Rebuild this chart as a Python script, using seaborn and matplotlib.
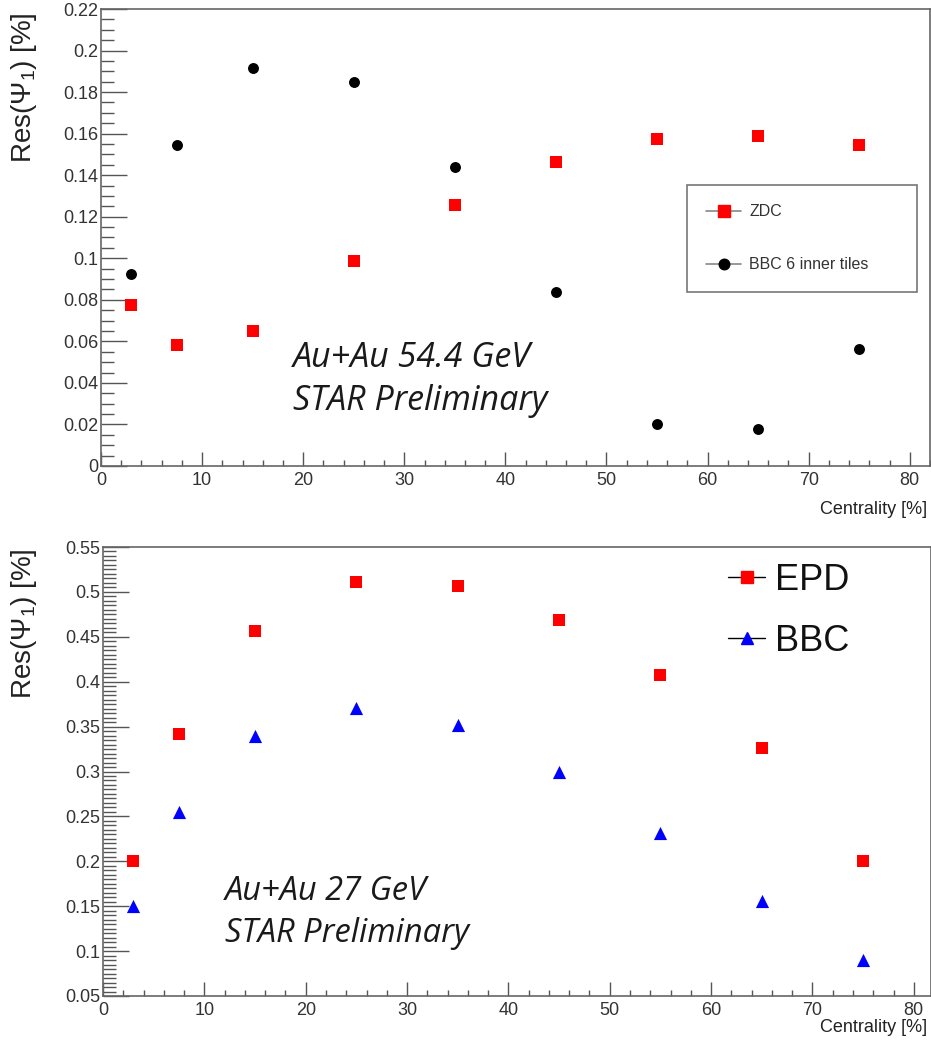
import pandas as pd
import seaborn as sns
import matplotlib.pyplot as plt
from matplotlib.lines import Line2D
from matplotlib.ticker import MultipleLocator, FuncFormatter

# centrality bin centres [%]
centrality = [3, 7.5, 15, 25, 35, 45, 55, 65, 75]

# Au+Au 54.4 GeV resolutions
zdc_res = [0.0775, 0.0583, 0.0651, 0.0985, 0.1258, 0.1465, 0.1573, 0.1589, 0.1547]
bbc_inner_res = [0.0924, 0.1544, 0.1918, 0.1849, 0.1441, 0.0838, 0.0201, 0.0178, 0.0565]

# Au+Au 27 GeV resolutions
epd_res = [0.2003, 0.3422, 0.4565, 0.5107, 0.5070, 0.4690, 0.4071, 0.3262, 0.2003]
bbc_res = [0.1500, 0.2546, 0.3390, 0.3710, 0.3515, 0.2995, 0.2315, 0.1558, 0.0897]

top = pd.DataFrame({'cent': centrality, 'ZDC': zdc_res, 'BBC 6 inner tiles': bbc_inner_res})
bot = pd.DataFrame({'cent': centrality, 'EPD': epd_res, 'BBC': bbc_res})

sns.set_theme(style='white')
plt.rcParams['font.family'] = ['Liberation Sans', 'DejaVu Sans']
plt.rcParams['mathtext.fontset'] = 'custom'
plt.rcParams['mathtext.rm'] = 'Liberation Sans'
plt.rcParams['mathtext.it'] = 'Liberation Sans:italic'

W, H = 931, 1040
fig = plt.figure(figsize=(W / 100, H / 100), dpi=100)
ax1 = fig.add_axes([101 / W, 1 - 466 / H, 829 / W, 457 / H])
ax2 = fig.add_axes([103 / W, 1 - 996 / H, 828 / W, 449 / H])

annot_font = ['Open Sans', 'DejaVu Sans']


#root-like frame and ticks
def style_axes(ax, ymaj, ymin):
    ax.xaxis.set_major_locator(MultipleLocator(10))
    ax.xaxis.set_minor_locator(MultipleLocator(2))
    ax.yaxis.set_major_locator(MultipleLocator(ymaj))
    ax.yaxis.set_minor_locator(MultipleLocator(ymin))
    fmt = FuncFormatter(lambda v, p: f'{round(v, 4):g}')
    ax.xaxis.set_major_formatter(fmt)
    ax.yaxis.set_major_formatter(fmt)
    ax.tick_params(which='both', direction='in', bottom=True, left=True, top=False, right=False,
                   color='#555555', width=1, labelcolor='#333333', labelsize=13)
    ax.tick_params(axis='y', which='major', length=18.7, pad=2)
    ax.tick_params(axis='y', which='minor', length=9.4)
    ax.tick_params(axis='x', which='major', length=10, pad=4)
    ax.tick_params(axis='x', which='minor', length=4.3)
    for sp in ax.spines.values():
        sp.set_color('#666666')
        sp.set_linewidth(1.2)
    ax.set_xlabel('')
    ax.set_ylabel('')


# top panel: 54.4 GeV
sns.scatterplot(data=top, x='cent', y='ZDC', marker='s', color='#ff0000', s=78, linewidth=0, ax=ax1, zorder=3)
sns.scatterplot(data=top, x='cent', y='BBC 6 inner tiles', marker='o', color='black', s=62, linewidth=0, ax=ax1, zorder=3)
ax1.set_xlim(0, 82)
ax1.set_ylim(0, 0.22)
style_axes(ax1, 0.02, 0.005)

h1 = [Line2D([], [], color='#888888', lw=1.2, marker='s', ms=8.6, mfc='#ff0000', mec='#ff0000'),
      Line2D([], [], color='#888888', lw=1.2, marker='o', ms=7.6, mfc='black', mec='black')]
leg1 = ax1.legend(h1, ['ZDC', 'BBC 6 inner tiles'], loc='upper left',
                  bbox_to_anchor=(0.7069, 0.3917, 0.2774, 0.2232), mode='expand',
                  fontsize=11.5, borderpad=1.2, labelspacing=2.4, handlelength=2.2,
                  handletextpad=0.5, fancybox=False, framealpha=1, edgecolor='#777777',
                  numpoints=1, borderaxespad=0)
leg1.get_frame().set_linewidth(1.2)
for t in leg1.get_texts():
    t.set_color('#333333')

ax1.text(0.2316, 0.2166, 'Au+Au 54.4 GeV', transform=ax1.transAxes, fontsize=24.5, style='italic',
         family=annot_font, color='#1a1a1a', va='baseline')
ax1.text(0.2316, 0.1225, 'STAR Preliminary', transform=ax1.transAxes, fontsize=24.5, style='italic',
         family=annot_font, color='#1a1a1a', va='baseline')

# bottom panel: 27 GeV
sns.scatterplot(data=bot, x='cent', y='EPD', marker='s', color='#ff0000', s=74, linewidth=0, ax=ax2, zorder=3)
sns.scatterplot(data=bot, x='cent', y='BBC', marker='^', color='#0000ff', s=90, linewidth=0, ax=ax2, zorder=3)
ax2.set_xlim(0, 81.7)
ax2.set_ylim(0.05, 0.55)
style_axes(ax2, 0.05, 0.005)

h2 = [Line2D([], [], color='black', lw=1, marker='s', ms=8.4, mfc='#ff0000', mec='#ff0000'),
      Line2D([], [], color='black', lw=1, marker='^', ms=9.2, mfc='#0000ff', mec='#0000ff')]
leg2 = ax2.legend(h2, ['EPD', 'BBC'], loc='upper left', bbox_to_anchor=(0.7548, 0.965),
                  fontsize=26, frameon=False, borderpad=0, borderaxespad=0, handlelength=1.03,
                  handletextpad=0.28, labelspacing=0.72, numpoints=1)
for t in leg2.get_texts():
    t.set_color('#111111')

ax2.text(0.147, 0.2138, 'Au+Au 27 GeV', transform=ax2.transAxes, fontsize=23.5, style='italic',
         family=annot_font, color='#1a1a1a', va='baseline')
ax2.text(0.147, 0.12, 'STAR Preliminary', transform=ax2.transAxes, fontsize=23.5, style='italic',
         family=annot_font, color='#1a1a1a', va='baseline')

# axis titles, ROOT style (y title at top, x title at right)
ylab = r'Res($\mathit{\Psi}_{1}$) [%]'
fig.text(24 / W, 1 - 12 / H, ylab, rotation=90, ha='center', va='top', fontsize=20, color='#222222')
fig.text(24 / W, 1 - 548 / H, ylab, rotation=90, ha='center', va='top', fontsize=20, color='#222222')
fig.text(927 / W, 1 - 510 / H, 'Centrality [%]', ha='right', va='center', fontsize=13, color='#222222')
fig.text(927 / W, 1 - 1028 / H, 'Centrality [%]', ha='right', va='center', fontsize=13, color='#222222')

fig.savefig('out.png', dpi=100, facecolor='white')
